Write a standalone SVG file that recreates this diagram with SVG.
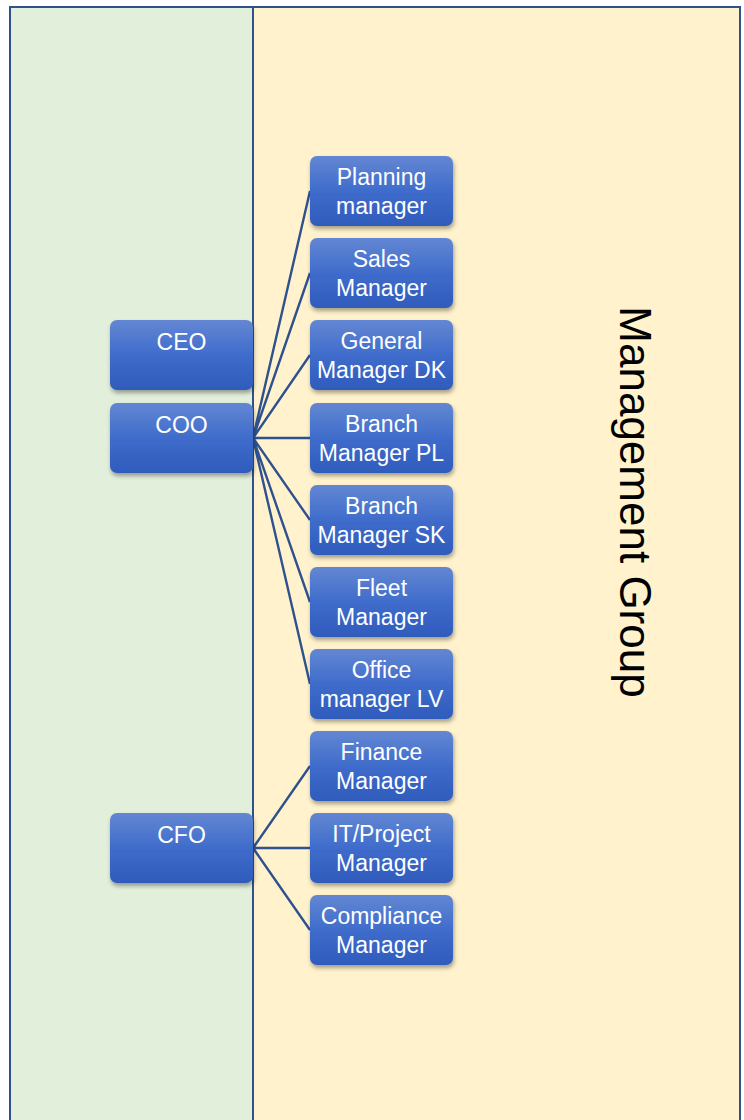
<svg xmlns="http://www.w3.org/2000/svg" width="744" height="1120" viewBox="0 0 744 1120">
<defs>
<linearGradient id="bg" x1="0" y1="0" x2="0" y2="1">
<stop offset="0" stop-color="#6387d3"/>
<stop offset="0.5" stop-color="#3f6ccb"/>
<stop offset="1" stop-color="#2f5cbc"/>
</linearGradient>
<filter id="sh" x="-10%" y="-10%" width="125%" height="135%">
<feDropShadow dx="1" dy="3" stdDeviation="2" flood-color="#000" flood-opacity="0.35"/>
</filter>
</defs>
<style>
.box{fill:url(#bg);filter:url(#sh);}
.t{font-family:"Liberation Sans",Arial,sans-serif;font-size:23px;fill:#fff;text-anchor:middle;}
.con{stroke:#2f528f;stroke-width:2.4;fill:none;}
.lane{stroke:#2f528f;stroke-width:2;}
</style>
<g id="lanes">
<rect class="lane" x="10" y="7" width="243" height="1130" fill="#e2efda"/>
<rect class="lane" x="253" y="7" width="487" height="1130" fill="#fff2cc"/>
<text x="620" y="502" transform="rotate(90 620 502)" font-family="Liberation Sans,Arial,sans-serif" font-size="44" text-anchor="middle" fill="#000">Management Group</text>
</g>
<g id="connectors">
<path class="con" d="M253 438 L310 191 M253 438 L310 273 M253 438 L310 355 M253 438 L310 438 M253 438 L310 520 M253 438 L310 602 M253 438 L310 684"/>
<path class="con" d="M253 848 L310 766 M253 848 L310 848 M253 848 L310 930"/>
</g>
<g id="ceo"><rect class="box" x="110" y="320" width="143" height="70" rx="7"/><text class="t" x="181.5" y="350">CEO</text></g>
<g id="coo"><rect class="box" x="110" y="403" width="143" height="70" rx="7"/><text class="t" x="181.5" y="433">COO</text></g>
<g id="cfo"><rect class="box" x="110" y="813" width="143" height="70" rx="7"/><text class="t" x="181.5" y="843">CFO</text></g>
<g id="planning"><rect class="box" x="310" y="156" width="143" height="70" rx="7"/><text class="t" x="381.5" y="185">Planning</text><text class="t" x="381.5" y="214">manager</text></g>
<g id="sales"><rect class="box" x="310" y="238" width="143" height="70" rx="7"/><text class="t" x="381.5" y="267">Sales</text><text class="t" x="381.5" y="296">Manager</text></g>
<g id="gmdk"><rect class="box" x="310" y="320" width="143" height="70" rx="7"/><text class="t" x="381.5" y="349">General</text><text class="t" x="381.5" y="378">Manager DK</text></g>
<g id="bmpl"><rect class="box" x="310" y="403" width="143" height="70" rx="7"/><text class="t" x="381.5" y="432">Branch</text><text class="t" x="381.5" y="461">Manager PL</text></g>
<g id="bmsk"><rect class="box" x="310" y="485" width="143" height="70" rx="7"/><text class="t" x="381.5" y="514">Branch</text><text class="t" x="381.5" y="543">Manager SK</text></g>
<g id="fleet"><rect class="box" x="310" y="567" width="143" height="70" rx="7"/><text class="t" x="381.5" y="596">Fleet</text><text class="t" x="381.5" y="625">Manager</text></g>
<g id="office"><rect class="box" x="310" y="649" width="143" height="70" rx="7"/><text class="t" x="381.5" y="678">Office</text><text class="t" x="381.5" y="707">manager LV</text></g>
<g id="finance"><rect class="box" x="310" y="731" width="143" height="70" rx="7"/><text class="t" x="381.5" y="760">Finance</text><text class="t" x="381.5" y="789">Manager</text></g>
<g id="it"><rect class="box" x="310" y="813" width="143" height="70" rx="7"/><text class="t" x="381.5" y="842">IT/Project</text><text class="t" x="381.5" y="871">Manager</text></g>
<g id="compliance"><rect class="box" x="310" y="895" width="143" height="70" rx="7"/><text class="t" x="381.5" y="924">Compliance</text><text class="t" x="381.5" y="953">Manager</text></g>
</svg>
